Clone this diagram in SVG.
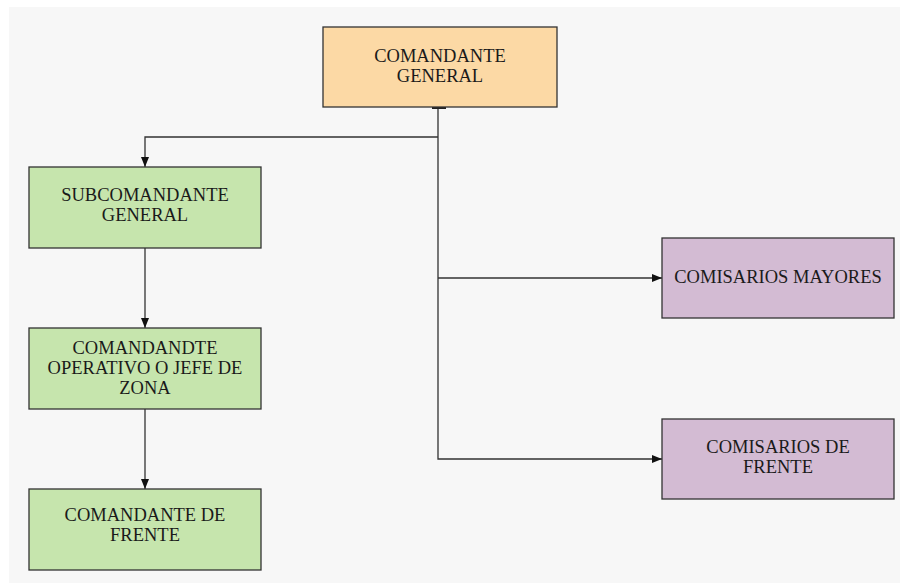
<svg xmlns="http://www.w3.org/2000/svg" width="900" height="583" viewBox="0 0 900 583">
<defs>
<marker id="arr" viewBox="0 0 10 8" refX="10" refY="4" markerWidth="10" markerHeight="8" markerUnits="userSpaceOnUse" orient="auto">
<path d="M0,0 L10,4 L0,8 Z" fill="#111"/>
</marker>
</defs>
<style>
.box{stroke:#333;stroke-width:1.3}
.top{fill:#fcd9a5}
.green{fill:#c6e5ad}
.purple{fill:#d3bbd3}
.lbl{font-family:"Liberation Serif","DejaVu Serif","Times New Roman",serif;font-size:18.5px;fill:#1a1a1a;text-anchor:middle}
.con{fill:none;stroke:#333;stroke-width:1.3}
</style>
<rect x="0" y="0" width="900" height="583" fill="#ffffff"/>
<rect x="9" y="7" width="891" height="576" fill="#f7f7f7"/>
<g id="connectors">
<rect x="432" y="106.5" width="14" height="2.5" fill="#222"/>
<path class="con" d="M438,109 V459 H662" marker-end="url(#arr)"/>
<path class="con" d="M438,137 H145 V167" marker-end="url(#arr)"/>
<path class="con" d="M438,278 H662" marker-end="url(#arr)"/>
<path class="con" d="M145,248 V328" marker-end="url(#arr)"/>
<path class="con" d="M145,409 V489" marker-end="url(#arr)"/>
</g>
<g id="comandante-general">
<rect class="box top" x="323" y="27" width="234" height="80"/>
<text class="lbl" x="440" y="62">COMANDANTE</text>
<text class="lbl" x="440" y="82">GENERAL</text>
</g>
<g id="subcomandante-general">
<rect class="box green" x="29" y="167" width="232" height="81"/>
<text class="lbl" x="145" y="201">SUBCOMANDANTE</text>
<text class="lbl" x="145" y="221">GENERAL</text>
</g>
<g id="comandante-operativo">
<rect class="box green" x="29" y="328" width="232" height="81"/>
<text class="lbl" x="145" y="354">COMANDANDTE</text>
<text class="lbl" x="145" y="374">OPERATIVO O JEFE DE</text>
<text class="lbl" x="145" y="394">ZONA</text>
</g>
<g id="comandante-de-frente">
<rect class="box green" x="29" y="489" width="232" height="81"/>
<text class="lbl" x="145" y="521">COMANDANTE DE</text>
<text class="lbl" x="145" y="541">FRENTE</text>
</g>
<g id="comisarios-mayores">
<rect class="box purple" x="662" y="238" width="232" height="80"/>
<text class="lbl" x="778" y="283">COMISARIOS MAYORES</text>
</g>
<g id="comisarios-de-frente">
<rect class="box purple" x="662" y="419" width="232" height="80"/>
<text class="lbl" x="778" y="453">COMISARIOS DE</text>
<text class="lbl" x="778" y="473">FRENTE</text>
</g>
</svg>
